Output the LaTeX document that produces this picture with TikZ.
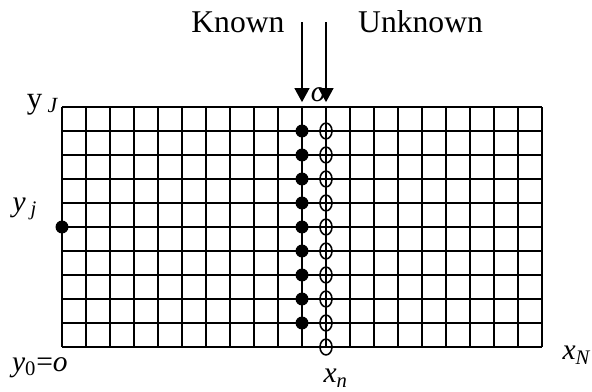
\documentclass[tikz,border=0pt]{standalone}
\usepackage{fontspec}
\setmainfont{Liberation Serif}
\usetikzlibrary{arrows.meta, positioning, calc}

\begin{document}
\begin{tikzpicture}[x=0.6cm, y=0.6cm,
    meshline/.style={line width=1.4pt},
    knowndot/.style={fill=black},
    unknownmark/.style={line width=1.1pt},
    flowarrow/.style={line width=1.4pt, -{Triangle[width=10.5pt, length=10pt]}},
    bigtext/.style={font=\fontsize{22.5}{26}\selectfont, inner sep=0pt},
    idxtext/.style={font=\fontsize{21}{24}\selectfont, inner sep=0pt}]
        \useasboundingbox (-2.583,-1.875) rectangle (22.083,14.458);
        % mesh
        \draw[meshline, step=1] (0,0) grid (20,10);
        % known column
        \foreach \j in {1,...,9}{
          \fill[knowndot] (10,\j) circle (0.27);
        }
        % unknown column
        \foreach \j in {0,...,9}{
          \draw[unknownmark] (11,\j) ellipse (0.25 and 0.33);
        }
        \fill[knowndot] (0,5) circle (0.27);
        % arrows
        \coordinate (knownStart) at (10,13.54);
        \coordinate (knownEnd) at (10,10.2);
        \coordinate (unknownStart) at (11,13.54);
        \coordinate (unknownEnd) at (11,10.2);
        \draw[flowarrow] (knownStart) -- (knownEnd);
        \draw[flowarrow] (unknownStart) -- (unknownEnd);
        \node[bigtext] (known) at (7.33,13.54) {Known};
        \node[bigtext] (unknown) at (14.94,13.54) {Unknown};
        \node[idxtext] (topo) at (10.68,10.5) {\textit{o}};
        % axis labels
        \node[idxtext, font=\fontsize{22}{26}\selectfont] (yJ) at (-0.8,10.1) {y\,\textsubscript{\textit{J}}};
        \node[idxtext] (yj) at (-1.55,5.75) {\textit{y}\,\textsubscript{\textit{j}}};
        \node[idxtext] (yzero) at (-0.92,-0.85) {\textit{y}\textsubscript{0}=\textit{o}};
        \node[idxtext] (xn) at (11.4,-1.3) {\textit{x}\textsubscript{\textit{n}}};
        \node[idxtext] (xN) at (21.45,-0.35) {\textit{x}\textsubscript{\textit{N}}};
      \end{tikzpicture}
\end{document}
